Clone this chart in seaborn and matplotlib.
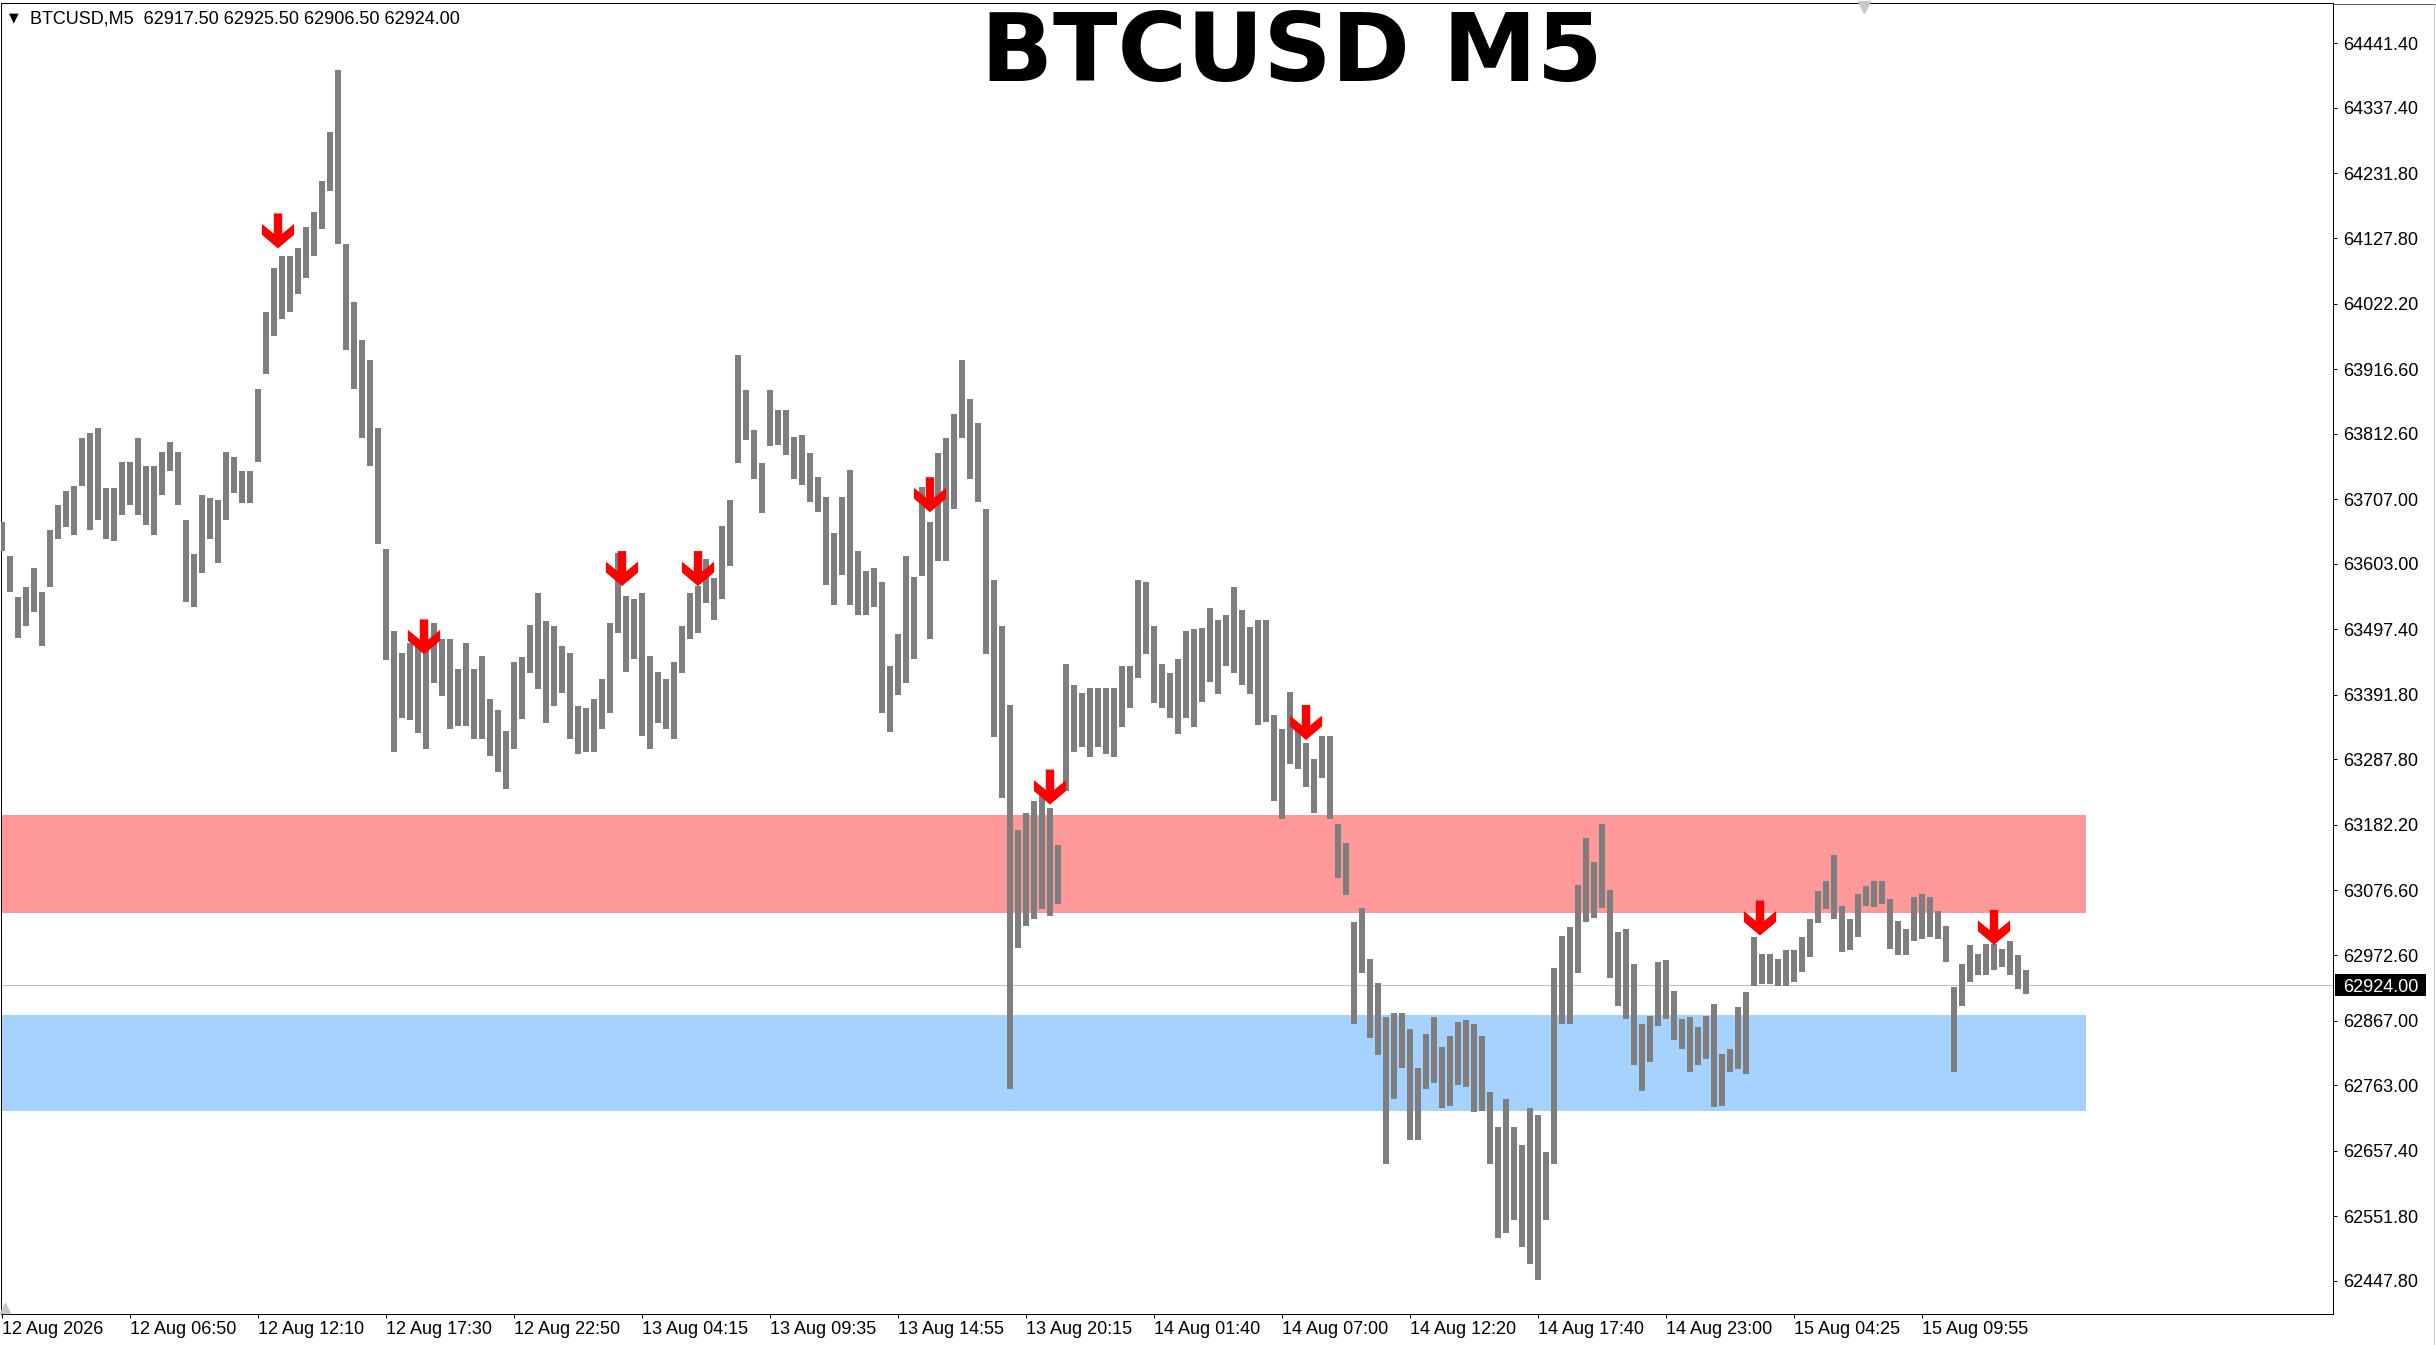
import numpy as np
import pandas as pd
import matplotlib
matplotlib.use("Agg")
import matplotlib.pyplot as plt
import seaborn as sns
from matplotlib.path import Path
from matplotlib.markers import MarkerStyle
from matplotlib.patches import Rectangle
from matplotlib.lines import Line2D
from matplotlib.transforms import blended_transform_factory

# ---------------- data ----------------
# each sample = high/low envelope of 4 consecutive M5 bars (20 minutes)
bar_high = [
    63670, 63615, 63549, 63565, 63596, 63557, 63658, 63697, 63721, 63728,
    63806, 63814, 63822, 63725, 63725, 63767, 63767, 63806, 63760, 63760,
    63783, 63799, 63783, 63674, 63619, 63713, 63709, 63705, 63783, 63775,
    63752, 63752, 63884, 64009, 64080, 64099, 64099, 64111, 64146, 64169,
    64220, 64298, 64399, 64118, 64025, 63963, 63931, 63822, 63627, 63494,
    63460, 63476, 63470, 63481, 63508, 63481, 63481, 63433, 63476, 63433,
    63454, 63385, 63368, 63334, 63444, 63452, 63505, 63556, 63511, 63503,
    63470, 63460, 63374, 63371, 63385, 63417, 63508, 63621, 63551, 63546,
    63556, 63454, 63428, 63417, 63444, 63503, 63556, 63567, 63610, 63580,
    63664, 63706, 63940, 63883, 63819, 63765, 63883, 63851, 63851, 63808,
    63810, 63782, 63743, 63711, 63652, 63711, 63754, 63624, 63592, 63596,
    63573, 63438, 63490, 63616, 63581, 63727, 63671, 63782, 63806, 63845,
    63932, 63869, 63830, 63691, 63577, 63502, 63375, 63174, 63201, 63221,
    63229, 63209, 63150, 63442, 63407, 63395, 63403, 63403, 63403, 63403,
    63438, 63438, 63577, 63573, 63502, 63442, 63427, 63450, 63494, 63498,
    63500, 63531, 63513, 63520, 63565, 63528, 63501, 63513, 63513, 63359,
    63337, 63397, 63340, 63314, 63288, 63325, 63325, 63183, 63153, 63026,
    63048, 62966, 62928, 62872, 62880, 62880, 62854, 62790, 62846, 62872,
    62824, 62842, 62865, 62868, 62861, 62842, 62752, 62696, 62741, 62696,
    62666, 62726, 62715, 62655, 62951, 63003, 63018, 63086, 63161, 63123,
    63183, 63078, 63009, 63015, 62958, 62862, 62875, 62961, 62964, 62915,
    62870, 62872, 62856, 62875, 62894, 62813, 62822, 62889, 62913, 63001,
    62974, 62974, 62966, 62980, 62980, 63001, 63031, 63076, 63092, 63133,
    63052, 63031, 63071, 63084, 63092, 63092, 63063, 63028, 63015, 63066,
    63071, 63066, 63044, 63020, 62921, 62958, 62988, 62974, 62990, 62990,
    62982, 62996, 62972, 62948,
]
bar_low = [
    63623, 63557, 63483, 63502, 63526, 63471, 63565, 63643, 63662, 63650,
    63728, 63658, 63674, 63643, 63639, 63682, 63697, 63682, 63666, 63650,
    63713, 63752, 63697, 63541, 63534, 63588, 63643, 63604, 63674, 63717,
    63701, 63701, 63767, 63908, 63970, 63998, 64009, 64037, 64064, 64099,
    64142, 64204, 64118, 63947, 63884, 63806, 63760, 63635, 63448, 63299,
    63355, 63352, 63331, 63304, 63411, 63390, 63336, 63342, 63342, 63320,
    63320, 63293, 63267, 63240, 63304, 63353, 63427, 63401, 63347, 63374,
    63395, 63320, 63296, 63299, 63299, 63336, 63363, 63492, 63428, 63449,
    63326, 63304, 63347, 63336, 63320, 63427, 63481, 63492, 63540, 63513,
    63546, 63599, 63765, 63803, 63739, 63685, 63792, 63795, 63779, 63739,
    63730, 63703, 63687, 63569, 63537, 63585, 63537, 63521, 63521, 63533,
    63363, 63332, 63391, 63411, 63450, 63584, 63482, 63608, 63608, 63691,
    63806, 63739, 63703, 63458, 63324, 63225, 62756, 62984, 63019, 63031,
    63047, 63035, 63055, 63237, 63300, 63308, 63292, 63308, 63296, 63292,
    63340, 63371, 63419, 63458, 63379, 63371, 63355, 63328, 63355, 63340,
    63380, 63412, 63393, 63438, 63427, 63408, 63393, 63344, 63348, 63221,
    63191, 63280, 63273, 63243, 63202, 63258, 63191, 63097, 63070, 62861,
    62943, 62839, 62812, 62636, 62741, 62790, 62674, 62674, 62756, 62767,
    62726, 62730, 62764, 62760, 62719, 62722, 62636, 62516, 62524, 62546,
    62502, 62475, 62449, 62546, 62636, 62861, 62861, 62943, 63026, 63033,
    63048, 62936, 62891, 62870, 62795, 62754, 62800, 62859, 62870, 62835,
    62822, 62784, 62795, 62805, 62728, 62730, 62784, 62789, 62781, 62923,
    62926, 62926, 62923, 62923, 62929, 62945, 62969, 63025, 63047, 63031,
    62977, 62980, 63001, 63052, 63050, 63055, 62982, 62972, 62972, 62996,
    62998, 63001, 62998, 62961, 62784, 62891, 62929, 62940, 62940, 62948,
    62953, 62940, 62918, 62910,
]
BARS_PER_SAMPLE = 4

time_labels = [
    "12 Aug 2026", "12 Aug 06:50", "12 Aug 12:10", "12 Aug 17:30",
    "12 Aug 22:50", "13 Aug 04:15", "13 Aug 09:35", "13 Aug 14:55",
    "13 Aug 20:15", "14 Aug 01:40", "14 Aug 07:00", "14 Aug 12:20",
    "14 Aug 17:40", "14 Aug 23:00", "15 Aug 04:25", "15 Aug 09:55",
]
time_label_bars = [0, 64, 128, 192, 256, 320, 384, 448, 512, 576, 640,
                   704, 768, 832, 896, 960]

price_ticks = [64441.40, 64337.40, 64231.80, 64127.80, 64022.20, 63916.60,
               63812.60, 63707.00, 63603.00, 63497.40, 63391.80, 63287.80,
               63182.20, 63076.60, 62972.60, 62867.00, 62763.00, 62657.40,
               62551.80, 62447.80]

arrow_bars = [138, 211, 310, 348, 464, 524, 652, 879, 996]
arrow_prices = [64111, 63457, 63567, 63567, 63686, 63215, 63319, 63004, 62989]

resistance_zone = (63041, 63199)
support_zone = (62722, 62876)
zone_end_bar = 1042
current_price = 62924.00

header_text = "BTCUSD,M5  62917.50 62925.50 62906.50 62924.00"
title_text = "BTCUSD M5"

# ---------------- figure ----------------
W, H, DPI = 2436, 1345, 100
sns.set_style("white")
plt.rcParams["font.family"] = ["Liberation Sans", "DejaVu Sans"]

fig = plt.figure(figsize=(W / DPI, H / DPI), dpi=DPI)
fig.patch.set_facecolor("white")
ax = fig.add_axes([1 / W, 31 / H, 2332 / W, 1311 / H])
ax.set_facecolor("white")

PX = 72 / DPI  # points per pixel
YLIM = (62394.3, 64506.4)

# zones
ax.fill_between([-1, zone_end_bar], resistance_zone[0], resistance_zone[1],
                color="#ff9999", linewidth=0, zorder=1)
ax.fill_between([-1, zone_end_bar], support_zone[0], support_zone[1],
                color="#a6d2ff", linewidth=0, zorder=1)

# current price line
ax.axhline(current_price, color="#c0c0c0", lw=1 * PX, zorder=2)

# price bars
n = len(bar_high)
xs = np.arange(n) * BARS_PER_SAMPLE
df = pd.DataFrame({
    "bar": np.repeat(xs, 2),
    "price": np.column_stack([bar_low, bar_high]).ravel(),
    "sample": np.repeat(np.arange(n), 2),
})
sns.lineplot(data=df, x="bar", y="price", units="sample", estimator=None,
             sort=False, color="#7e7e7e", linewidth=6.0 * PX,
             solid_capstyle="butt", ax=ax, legend=False, zorder=3)

# signal arrows (tip at the data point)
verts = [(0, 0), (0.46, 0.39), (0.46, 0.70), (0.12, 0.42), (0.12, 1.0),
         (-0.12, 1.0), (-0.12, 0.42), (-0.46, 0.70), (-0.46, 0.39), (0, 0)]
codes = [Path.MOVETO] + [Path.LINETO] * 8 + [Path.CLOSEPOLY]
arrow_marker = MarkerStyle(Path(verts, codes))
ms_pt = 70 * PX
sns.scatterplot(x=arrow_bars, y=arrow_prices, marker=arrow_marker,
                s=ms_pt ** 2, color="#ff0000", edgecolor="none",
                linewidth=0, ax=ax, zorder=5, legend=False)

# axes limits / ticks
ax.set_xlim(-0.5, 1165.5)
ax.set_ylim(*YLIM)
ax.set_xlabel("")
ax.set_ylabel("")

ax.yaxis.tick_right()
ax.set_yticks(price_ticks)
ax.set_yticklabels([f"{p:.2f}" for p in price_ticks])
ax.tick_params(axis="y", which="major", right=True, left=False,
               direction="out", length=4 * PX, width=1 * PX, pad=6 * PX,
               labelsize=13, colors="black")

ax.set_xticks(time_label_bars)
ax.set_xticklabels(time_labels)
for lab in ax.get_xticklabels():
    lab.set_horizontalalignment("left")
ax.tick_params(axis="x", which="major", bottom=True, direction="out",
               length=4 * PX, width=1 * PX, pad=3 * PX, labelsize=13,
               colors="black")

for sp in ax.spines.values():
    sp.set_visible(True)
    sp.set_color("black")
    sp.set_linewidth(1 * PX)

# current price label box on the price scale
blend = blended_transform_factory(fig.transFigure, ax.transData)
box_h = 22 * (YLIM[1] - YLIM[0]) / 1311
rect = Rectangle((2335 / W, current_price - box_h / 2), 91 / W, box_h,
                 transform=blend, facecolor="black", edgecolor="none",
                 clip_on=False, zorder=10)
fig.add_artist(rect)
fig.text(2343 / W, current_price, f"{current_price:.2f}", transform=blend,
         color="white", fontsize=13, ha="left", va="center_baseline",
         zorder=11)

# frame extras
fig.add_artist(Line2D([2333 / W, 1.0], [1 - 3.5 / H, 1 - 3.5 / H],
                      color="#606060", lw=1 * PX, transform=fig.transFigure))
fig.add_artist(Line2D([2433.5 / W, 2433.5 / W], [0, 1 - 3.5 / H],
                      color="#d0d0d0", lw=1 * PX, transform=fig.transFigure))
fig.add_artist(Line2D([1864 / W], [1 - 7 / H], marker="v", markersize=9,
                      color="#c8c8c8", transform=fig.transFigure, lw=0))
fig.add_artist(Line2D([5 / W], [1 - 1308 / H], marker="^", markersize=7,
                      color="#c8c8c8", transform=fig.transFigure, lw=0))

# header & title
fig.text(9 / W, 1 - 18 / H, "\u25bc", fontsize=9, ha="left", va="center",
         color="black", family=["DejaVu Sans"])
fig.text(30 / W, 1 - 24 / H, header_text, fontsize=13, ha="left",
         va="baseline", color="black")
fig.text(1292 / W, 1 - 81 / H, title_text, fontsize=68, fontweight="bold",
         ha="center", va="baseline", color="black",
         family=["DejaVu Sans"])

fig.savefig("out.png", dpi=DPI, facecolor="white")
